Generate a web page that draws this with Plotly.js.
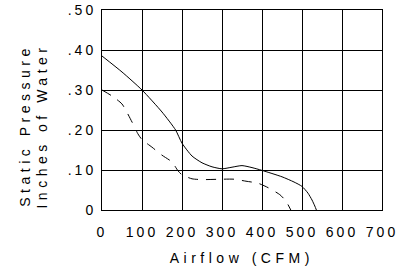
<!DOCTYPE html>
<html><head><meta charset="utf-8">
<script src="https://cdn.plot.ly/plotly-3.0.1.min.js"></script>
<style>
html,body{margin:0;padding:0;background:#fff;}
#chart .xtick text,#chart .ytick text{letter-spacing:3px;}
#chart .annotation-text{letter-spacing:4.5px;}
</style>
</head><body>
<div id="chart" style="width:412px;height:269px;"></div>
<script>
// Solid curve (higher)
const solidCFM = [0, 50, 100, 150, 184, 200, 225, 250, 275, 300, 325, 350, 375, 400, 450, 480, 500, 515, 525, 532, 536];
const solidSP  = [0.385, 0.345, 0.30, 0.245, 0.20, 0.167, 0.135, 0.118, 0.108, 0.103, 0.107, 0.111, 0.106, 0.099, 0.083, 0.070, 0.059, 0.042, 0.025, 0.010, 0.0];
// Dashed curve (lower)
const dashCFM = [0, 25, 50, 75, 90, 100, 125, 150, 175, 190, 200, 225, 250, 300, 330, 360, 390, 415, 445, 460, 472];
const dashSP  = [0.30, 0.285, 0.265, 0.22, 0.19, 0.176, 0.157, 0.137, 0.12, 0.098, 0.088, 0.078, 0.076, 0.077, 0.077, 0.072, 0.067, 0.056, 0.038, 0.022, 0.0];

const xTickVals = [0, 100, 200, 300, 400, 500, 600, 700];
const xTickText = ['0', '100', '200', '300', '400', '500', '600', '700'];
const yTickVals = [0, 0.1, 0.2, 0.3, 0.4, 0.5];
const yTickText = ['0', '.10', '.20', '.30', '.40', '.50'];

const xTitle = 'Airflow (CFM)';
const yTitle1 = 'Static Pressure';
const yTitle2 = 'Inches of Water';

const fnt = {family: 'Liberation Sans, Arial, sans-serif', size: 14, color: '#000'};

const traces = [
  {x: solidCFM, y: solidSP, mode: 'lines', line: {color: '#000', width: 1, shape: 'spline', smoothing: 0.6}, hoverinfo: 'skip'},
  {x: dashCFM, y: dashSP, mode: 'lines', line: {color: '#000', width: 1, dash: '10px,8px', shape: 'spline', smoothing: 0.6}, hoverinfo: 'skip'}
];

const layout = {
  width: 412, height: 269,
  margin: {l: 102, r: 30, t: 10, b: 59},
  paper_bgcolor: '#fff', plot_bgcolor: '#fff',
  showlegend: false,
  font: fnt,
  xaxis: {
    range: [0, 700], tickvals: xTickVals, ticktext: xTickText,
    showgrid: true, gridcolor: '#000', gridwidth: 1,
    showline: true, linecolor: '#000', linewidth: 1, mirror: true,
    zeroline: false, ticks: '', ticklabelstandoff: 9, tickfont: fnt, fixedrange: true
  },
  yaxis: {
    range: [0, 0.5], tickvals: yTickVals, ticktext: yTickText,
    showgrid: true, gridcolor: '#000', gridwidth: 1,
    showline: true, linecolor: '#000', linewidth: 1, mirror: true,
    zeroline: false, ticks: '', ticklabelstandoff: 2, tickfont: fnt, fixedrange: true
  },
  annotations: [
    {text: xTitle, xref: 'paper', yref: 'paper', x: 0.5, y: -0.24, xanchor: 'center', yanchor: 'middle', showarrow: false, font: fnt},
    {text: yTitle1, xref: 'paper', yref: 'paper', x: -0.275, y: 0.42, xanchor: 'center', yanchor: 'middle', textangle: -90, showarrow: false, font: fnt},
    {text: yTitle2, xref: 'paper', yref: 'paper', x: -0.215, y: 0.42, xanchor: 'center', yanchor: 'middle', textangle: -90, showarrow: false, font: fnt}
  ]
};

Plotly.newPlot('chart', traces, layout, {staticPlot: true, displayModeBar: false});
</script>
</body></html>
